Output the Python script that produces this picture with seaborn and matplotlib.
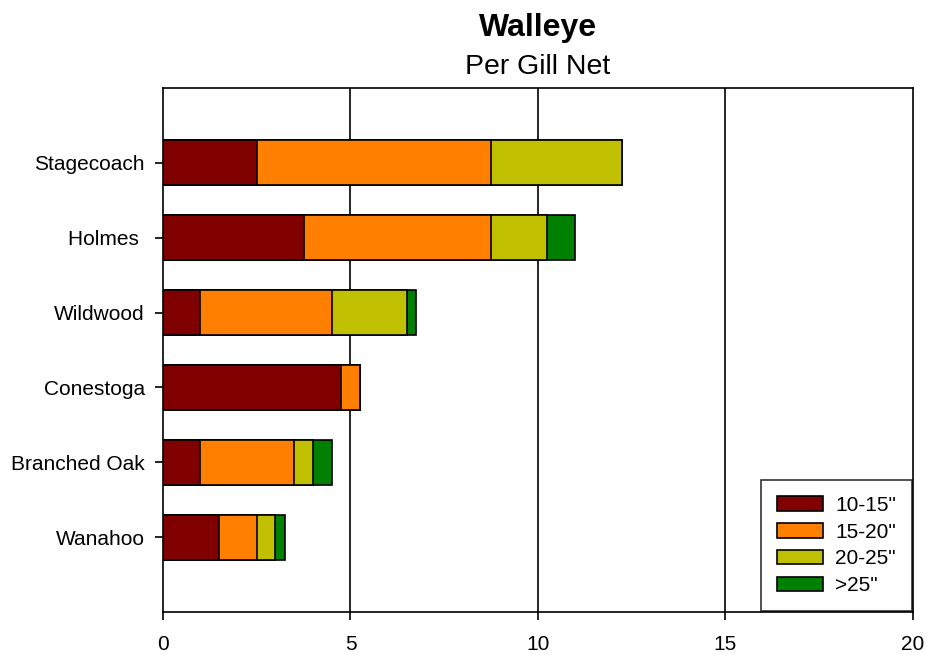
import matplotlib
matplotlib.use("Agg")
import matplotlib.pyplot as plt
import seaborn as sns
import numpy as np
import pandas as pd
from matplotlib.patches import Patch

lakes = ["Stagecoach", "Holmes ", "Wildwood", "Conestoga", "Branched Oak", "Wanahoo"]
size_classes = ['10-15"', '15-20"', '20-25"', '>25"']
v_10_15 = [2.5, 3.75, 1.0, 4.75, 1.0, 1.5]
v_15_20 = [6.25, 5.0, 3.5, 0.5, 2.5, 1.0]
v_20_25 = [3.5, 1.5, 2.0, 0.0, 0.5, 0.5]
v_25up = [0.0, 0.75, 0.25, 0.0, 0.5, 0.25]
colors = ["#800000", "#FF8000", "#C0C000", "#008000"]

sns.set_style("white")
plt.rcParams['font.family'] = ['Liberation Sans', 'DejaVu Sans']
plt.rcParams['text.color'] = 'black'

series = [v_10_15, v_15_20, v_20_25, v_25up]
cum = np.cumsum(np.array(series), axis=0)

fig = plt.figure(figsize=(9.28, 6.55), dpi=100)
ax = fig.add_axes([163/928, 1-612/655, 750/928, 524/655])

for i in range(3, -1, -1):
    df = pd.DataFrame({"lake": lakes, "value": cum[i]})
    sns.barplot(data=df, x="value", y="lake", order=lakes, color=colors[i],
                saturation=1, width=0.6, edgecolor="black", linewidth=1.2,
                ax=ax, zorder=3)

ax.set_xlim(0, 20)
ax.set_ylim(6, -1)
ax.set_xticks([0, 5, 10, 15, 20])
ax.set_xlabel("")
ax.set_ylabel("")
for x in [5, 10, 15]:
    ax.axvline(x, color="black", linewidth=1.2, zorder=1)
for s in ax.spines.values():
    s.set_visible(True)
    s.set_color("black")
    s.set_linewidth(1.2)
ax.tick_params(axis="both", which="both", direction="out", length=6, width=1.2,
               colors="black", labelcolor="black", labelsize=15, bottom=True, left=True)
ax.tick_params(axis="x", pad=10.5)
ax.tick_params(axis="y", pad=7)

handles = [Patch(facecolor=c, edgecolor="black", linewidth=1.2, label=l)
           for c, l in zip(colors, size_classes)]
leg = ax.legend(handles=handles, loc="lower right", fontsize=15, frameon=True,
                fancybox=False, edgecolor="black", handlelength=2.2,
                handleheight=0.7, borderpad=0.75, labelspacing=0.38,
                borderaxespad=0.05, handletextpad=0.6)
leg.get_frame().set_linewidth(1.2)
for t in leg.get_texts():
    t.set_color("black")

cx = (163 + 913) / 2 / 928
fig.text(cx, 1 - 28/655, "Walleye", ha="center", va="center", fontsize=23,
         fontweight="bold", color="black")
fig.text(cx, 1 - 67/655, "Per Gill Net", ha="center", va="center", fontsize=20.5,
         color="black")

fig.savefig("out.png", dpi=100)
